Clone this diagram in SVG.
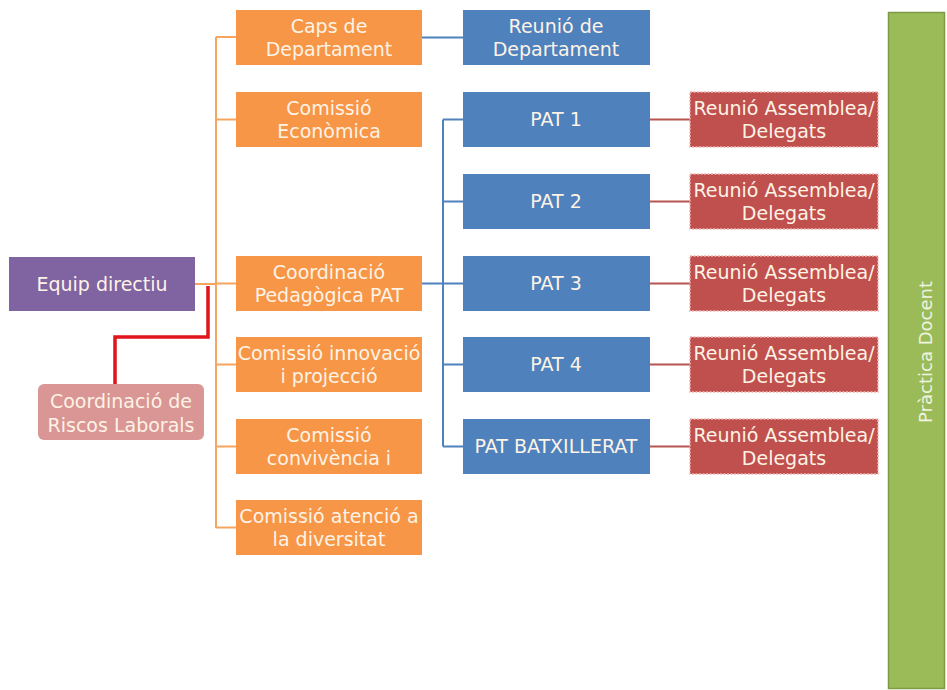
<svg xmlns="http://www.w3.org/2000/svg" width="947" height="690" viewBox="0 0 947 690">
<style>
text{font-family:"DejaVu Sans","Liberation Sans",sans-serif;font-size:19px;text-anchor:middle;fill:#fdf3e6}
.org rect{fill:#f79646}
.blu rect{fill:#4f81bd}
.red rect{fill:#c0504d;stroke:#f0b4b0;stroke-width:1.5;stroke-dasharray:2 1.5}
.c-o{stroke:#f5a55f;stroke-width:2;fill:none}
.c-b{stroke:#4f81bd;stroke-width:2;fill:none}
.c-r{stroke:#b85450;stroke-width:2;fill:none}
.c-rr{stroke:#e0141a;stroke-width:3.5;fill:none}
</style>
<rect width="947" height="690" fill="#ffffff"/>
<g id="connectors">
<path class="c-o" d="M195 284H216M216 37V528M216 37H236M216 119.5H236M216 283.5H236M216 364.5H236M216 446.5H236M216 527.5H236"/>
<path class="c-rr" d="M208 286V337H115V385"/>
<path class="c-b" d="M422 37.5H463M422 283.5H443M443 119.5V446.5M443 119.5H463M443 201.5H463M443 283.5H463M443 364.5H463M443 446.5H463"/>
<path class="c-r" d="M650 119.5H690M650 201.5H690M650 283.5H690M650 364.5H690M650 446.5H690"/>
</g>
<g id="equip-directiu"><rect x="9" y="257" width="186" height="54" fill="#8064a2"/><text x="102" y="291">Equip directiu</text></g>
<g id="riscos"><rect x="38" y="384" width="166" height="56" rx="6" fill="#d99694"/><text x="121" y="408">Coordinació de</text><text x="121" y="432">Riscos Laborals</text></g>
<g id="caps" class="org"><rect x="236" y="10" width="186" height="55"/><text x="329" y="33">Caps de</text><text x="329" y="56">Departament</text></g>
<g id="economica" class="org"><rect x="236" y="92" width="186" height="55"/><text x="329" y="115">Comissió</text><text x="329" y="138">Econòmica</text></g>
<g id="coord-pat" class="org"><rect x="236" y="256" width="186" height="55"/><text x="329" y="279">Coordinació</text><text x="329" y="302">Pedagògica PAT</text></g>
<g id="innovacio" class="org"><rect x="236" y="337" width="186" height="55"/><text x="329" y="360">Comissió innovació</text><text x="329" y="383">i projecció</text></g>
<g id="convivencia" class="org"><rect x="236" y="419" width="186" height="55"/><text x="329" y="442">Comissió</text><text x="329" y="465">convivència i</text></g>
<g id="diversitat" class="org"><rect x="236" y="500" width="186" height="55"/><text x="329" y="523">Comissió atenció a</text><text x="329" y="546">la diversitat</text></g>
<g id="reunio-dep" class="blu"><rect x="463" y="10" width="187" height="55"/><text x="556" y="33">Reunió de</text><text x="556" y="56">Departament</text></g>
<g id="pat1" class="blu"><rect x="463" y="92" width="187" height="55"/><text x="556" y="126">PAT 1</text></g>
<g id="pat2" class="blu"><rect x="463" y="174" width="187" height="55"/><text x="556" y="208">PAT 2</text></g>
<g id="pat3" class="blu"><rect x="463" y="256" width="187" height="55"/><text x="556" y="290">PAT 3</text></g>
<g id="pat4" class="blu"><rect x="463" y="337" width="187" height="55"/><text x="556" y="371">PAT 4</text></g>
<g id="patbat" class="blu"><rect x="463" y="419" width="187" height="55"/><text x="556" y="453">PAT BATXILLERAT</text></g>
<g id="reu1" class="red"><rect x="690" y="92" width="188" height="55"/><text x="784" y="115">Reunió Assemblea/</text><text x="784" y="138">Delegats</text></g>
<g id="reu2" class="red"><rect x="690" y="174" width="188" height="55"/><text x="784" y="197">Reunió Assemblea/</text><text x="784" y="220">Delegats</text></g>
<g id="reu3" class="red"><rect x="690" y="256" width="188" height="55"/><text x="784" y="279">Reunió Assemblea/</text><text x="784" y="302">Delegats</text></g>
<g id="reu4" class="red"><rect x="690" y="337" width="188" height="55"/><text x="784" y="360">Reunió Assemblea/</text><text x="784" y="383">Delegats</text></g>
<g id="reu5" class="red"><rect x="690" y="419" width="188" height="55"/><text x="784" y="442">Reunió Assemblea/</text><text x="784" y="465">Delegats</text></g>
<g id="practica"><rect x="888.5" y="12.5" width="56" height="676" fill="#9bbb59" stroke="#7d9a45" stroke-width="1.5"/><text transform="translate(932 352) rotate(-90)" style="font-size:18px;fill:#eef4e0">Pràctica Docent</text></g>
</svg>
